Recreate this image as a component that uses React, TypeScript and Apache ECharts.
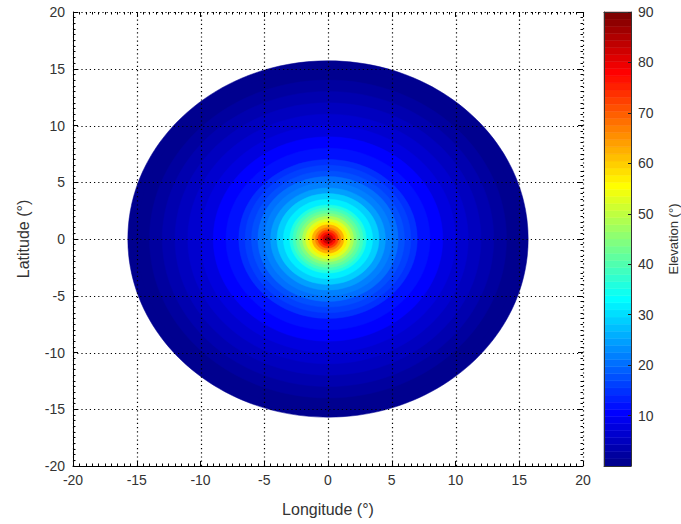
import React, { useEffect, useRef } from "react";
import * as echarts from "echarts";

// Radial elevation profile of the coverage disk (band outer radius in degrees, band elevation in degrees)
const ringRadius = [15.7, 15, 14, 13, 12, 11, 10, 9, 8, 7, 6.5, 6, 5.5, 5, 4.5, 4, 3.5, 3, 2.75, 2.5, 2.25, 2, 1.75, 1.5, 1.25, 1, 0.8, 0.6, 0.4, 0.2];
const ringElevation = [0.4, 1.3, 2.4, 3.6, 4.9, 6.4, 8.1, 10.1, 12.4, 14.5, 16.1, 17.9, 19.9, 22.3, 25.0, 28.3, 32.2, 35.7, 38.4, 41.3, 44.6, 48.3, 52.5, 57.1, 62.1, 67.1, 71.8, 76.8, 82.0, 87.3];
const diskCenter = [0, 0];

const gridTicks = [-20, -15, -10, -5, 0, 5, 10, 15, 20];
const axisMin = -20;
const axisMax = 20;
const axisStep = 5;
const elevMin = 0;
const elevMax = 90;
const elevStep = 10;
const colorLevels = 64;

const FONT = "'Liberation Sans', Arial, sans-serif";

// MATLAB-style jet colormap with 64 levels
function jetColors(m: number): string[] {
  const n = Math.ceil(m / 4);
  const len = 3 * n - 1;
  const off = Math.ceil(n / 2) - (m % 4 === 1 ? 1 : 0);
  const u = (k: number) => (k < 1 || k > len ? 0 : k <= n ? k / n : k <= 2 * n - 1 ? 1 : (3 * n - k) / n);
  const out: string[] = [];
  for (let i = 1; i <= m; i++) {
    const r = u(i - off - n);
    const g = u(i - off);
    const b = u(i - off + n);
    const h = (v: number) => Math.round(v * 255).toString(16).padStart(2, "0");
    out.push("#" + h(r) + h(g) + h(b));
  }
  return out;
}

export default function App() {
  const ref = useRef<HTMLDivElement>(null);
  useEffect(() => {
    if (!ref.current) return;
    const chart = echarts.init(ref.current, undefined, { renderer: "svg" });

    const jet = jetColors(colorLevels);
    const step = (elevMax - elevMin) / colorLevels;
    const pieces = jet.map((c, i) =>
      i === colorLevels - 1
        ? { gte: elevMin + i * step, lte: elevMax + 1, color: c }
        : { gte: elevMin + i * step, lt: elevMin + (i + 1) * step, color: c }
    );

    const diskData = ringRadius.map((r, i) => [r, ringElevation[i]]);
    const lastRing = diskData.length - 1;
    const barData = jet.map((_, i) => [
      elevMin + i * step,
      elevMin + (i + 0.5) * step,
      elevMin + (i + 1) * step,
    ]);

    const mainAxisCommon = {
      type: "value",
      min: axisMin,
      max: axisMax,
      interval: axisStep,
      z: 10,
      splitLine: { show: false },
      axisTick: { show: true, inside: true, length: 5, lineStyle: { color: "#000" } },
      minorTick: { show: true, splitNumber: 10, length: 2.5, lineStyle: { color: "#000" } },
    };

    const gridLineStyle = { stroke: "#000", lineWidth: 1.2, lineDash: [1.2, 3] };

    const option: any = {
      animation: false,
      backgroundColor: "#fff",
      textStyle: { fontFamily: FONT },
      grid: [
        { left: 73, right: 98, top: 12, bottom: 58 },
        { left: 604, width: 28, top: 12, bottom: 58 },
      ],
      visualMap: {
        type: "piecewise",
        show: false,
        dimension: 1,
        seriesIndex: [0, 1],
        pieces,
      },
      xAxis: [
        {
          ...mainAxisCommon,
          gridIndex: 0,
          position: "bottom",
          axisLine: { show: true, onZero: false, lineStyle: { color: "#000", width: 1 } },
          axisLabel: { fontSize: 14, color: "#333", margin: 7, fontFamily: FONT },
          name: "Longitude (°)",
          nameLocation: "middle",
          nameGap: 35,
          nameTextStyle: { fontSize: 16, color: "#333", fontFamily: FONT },
        },
        {
          ...mainAxisCommon,
          gridIndex: 0,
          position: "top",
          axisLine: { show: false, onZero: false },
          axisLabel: { show: false },
        },
        {
          type: "value",
          gridIndex: 1,
          min: 0,
          max: 1,
          position: "bottom",
          z: 10,
          axisLine: { show: true, onZero: false, lineStyle: { color: "#333" } },
          axisTick: { show: false },
          axisLabel: { show: false },
          splitLine: { show: false },
        },
        {
          type: "value",
          gridIndex: 1,
          min: 0,
          max: 1,
          position: "top",
          z: 10,
          axisLine: { show: true, onZero: false, lineStyle: { color: "#333" } },
          axisTick: { show: false },
          axisLabel: { show: false },
          splitLine: { show: false },
        },
      ],
      yAxis: [
        {
          ...mainAxisCommon,
          gridIndex: 0,
          position: "left",
          axisLine: { show: true, onZero: false, lineStyle: { color: "#000", width: 1 } },
          axisLabel: { fontSize: 14, color: "#333", margin: 8, fontFamily: FONT },
          name: "Latitude (°)",
          nameLocation: "middle",
          nameGap: 42,
          nameRotate: 90,
          nameTextStyle: { fontSize: 16, color: "#333", fontFamily: FONT },
        },
        {
          ...mainAxisCommon,
          gridIndex: 0,
          position: "right",
          axisLine: { show: false, onZero: false },
          axisLabel: { show: false },
        },
        {
          type: "value",
          gridIndex: 1,
          min: elevMin,
          max: elevMax,
          interval: elevStep,
          position: "right",
          z: 10,
          axisLine: { show: true, onZero: false, lineStyle: { color: "#333" } },
          axisTick: { show: true, inside: true, length: 3, lineStyle: { color: "#222" } },
          axisLabel: { showMinLabel: false, fontSize: 14, color: "#333", margin: 7, fontFamily: FONT },
          splitLine: { show: false },
          name: "Elevation (°)",
          nameLocation: "middle",
          nameGap: 36,
          nameRotate: 90,
          nameTextStyle: { fontSize: 13, color: "#333", fontFamily: FONT },
        },
        {
          type: "value",
          gridIndex: 1,
          min: elevMin,
          max: elevMax,
          position: "left",
          z: 10,
          axisLine: { show: true, onZero: false, lineStyle: { color: "#333" } },
          axisTick: { show: false },
          axisLabel: { show: false },
          splitLine: { show: false },
        },
      ],
      series: [
        {
          type: "custom",
          xAxisIndex: 0,
          yAxisIndex: 0,
          clip: false,
          data: diskData,
          renderItem: (params: any, api: any) => {
            const r = api.value(0);
            const c = api.coord(diskCenter);
            const sx = api.size([r, 0])[0];
            const sy = api.size([0, r])[1];
            const color = api.visual("color");
            const ellipse = {
              type: "ellipse",
              shape: { cx: c[0], cy: c[1], rx: sx, ry: sy },
              style: { fill: color, stroke: color, lineWidth: 0.5 },
            };
            if (params.dataIndex !== lastRing) return ellipse;
            // dotted grid drawn over the field, like MATLAB's "grid on"
            const lines: any[] = [];
            gridTicks.forEach((t) => {
              const a = api.coord([t, axisMin]);
              const b = api.coord([t, axisMax]);
              const p = api.coord([axisMin, t]);
              const q = api.coord([axisMax, t]);
              const x = Math.round(a[0]) + 0.5;
              const y = Math.round(p[1]) + 0.5;
              lines.push({ type: "line", shape: { x1: x, y1: a[1], x2: x, y2: b[1] }, style: gridLineStyle });
              lines.push({ type: "line", shape: { x1: p[0], y1: y, x2: q[0], y2: y }, style: gridLineStyle });
            });
            return { type: "group", children: [ellipse, ...lines] };
          },
        },
        {
          type: "custom",
          xAxisIndex: 2,
          yAxisIndex: 2,
          data: barData,
          renderItem: (params: any, api: any) => {
            const lo = api.value(0);
            const hi = api.value(2);
            const p1 = api.coord([0, hi]);
            const p2 = api.coord([1, lo]);
            const color = api.visual("color");
            return {
              type: "rect",
              shape: { x: p1[0], y: p1[1], width: p2[0] - p1[0], height: p2[1] - p1[1] },
              style: { fill: color, stroke: color, lineWidth: 0.5 },
            };
          },
        },
      ],
    };

    chart.setOption(option);
    return () => chart.dispose();
  }, []);

  return <div ref={ref} style={{ position: "fixed", left: 0, top: 0, width: 681, height: 524 }} />;
}
